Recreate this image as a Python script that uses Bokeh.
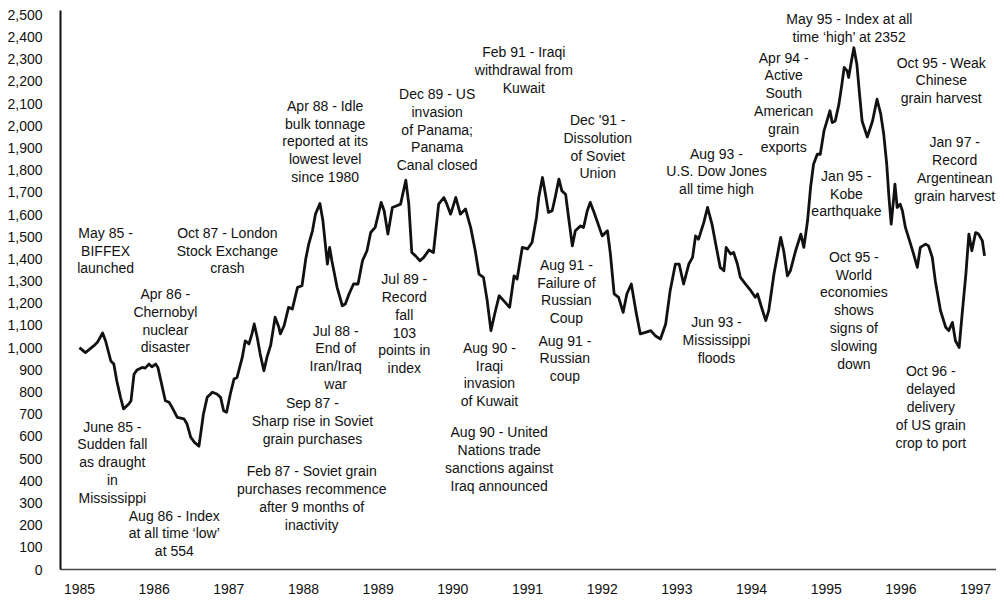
from bokeh.plotting import figure
from bokeh.models import Range1d, FixedTicker, NumeralTickFormatter, ColumnDataSource
from bokeh.core.properties import value
from bokeh.embed import file_html
from bokeh.resources import INLINE

# ---- data: BIFFEX index (decimal year, index value) ----
year = [
    1985.00, 1985.08, 1985.19, 1985.24, 1985.31, 1985.35, 1985.42, 1985.46, 1985.50, 1985.55,
    1985.59, 1985.66, 1985.69, 1985.73, 1985.77, 1985.84, 1985.88, 1985.93, 1985.97, 1986.02,
    1986.05, 1986.11, 1986.15, 1986.20, 1986.24, 1986.31, 1986.40, 1986.44, 1986.49, 1986.54,
    1986.60, 1986.66, 1986.71, 1986.78, 1986.84, 1986.89, 1986.93, 1986.97, 1987.02, 1987.07,
    1987.11, 1987.18, 1987.22, 1987.27, 1987.31, 1987.34, 1987.38, 1987.42, 1987.47, 1987.51,
    1987.56, 1987.62, 1987.67, 1987.69, 1987.74, 1987.80, 1987.85, 1987.92, 1987.98, 1988.03,
    1988.07, 1988.12, 1988.16, 1988.22, 1988.26, 1988.32, 1988.35, 1988.38, 1988.45, 1988.52,
    1988.56, 1988.61, 1988.67, 1988.73, 1988.79, 1988.85, 1988.90, 1988.96, 1989.04, 1989.08,
    1989.13, 1989.19, 1989.25, 1989.30, 1989.37, 1989.41, 1989.45, 1989.50, 1989.56, 1989.61,
    1989.68, 1989.74, 1989.81, 1989.88, 1989.92, 1989.97, 1990.04, 1990.10, 1990.17, 1990.24,
    1990.30, 1990.35, 1990.41, 1990.46, 1990.51, 1990.56, 1990.62, 1990.68, 1990.76, 1990.82,
    1990.86, 1990.93, 1991.00, 1991.06, 1991.12, 1991.15, 1991.20, 1991.24, 1991.28, 1991.33,
    1991.37, 1991.42, 1991.46, 1991.51, 1991.55, 1991.60, 1991.64, 1991.71, 1991.75, 1991.80,
    1991.84, 1991.89, 1991.93, 1992.00, 1992.07, 1992.11, 1992.16, 1992.22, 1992.28, 1992.33,
    1992.39, 1992.45, 1992.51, 1992.58, 1992.65, 1992.71, 1992.78, 1992.85, 1992.91, 1992.98,
    1993.03, 1993.09, 1993.16, 1993.21, 1993.25, 1993.29, 1993.36, 1993.41, 1993.47, 1993.52,
    1993.58, 1993.63, 1993.66, 1993.72, 1993.76, 1993.81, 1993.85, 1993.92, 1993.99, 1994.05,
    1994.08, 1994.12, 1994.19, 1994.23, 1994.30, 1994.39, 1994.43, 1994.48, 1994.52, 1994.59,
    1994.66, 1994.70, 1994.75, 1994.79, 1994.83, 1994.88, 1994.92, 1994.97, 1995.01, 1995.05,
    1995.08, 1995.12, 1995.17, 1995.21, 1995.24, 1995.28, 1995.30, 1995.33, 1995.37, 1995.41,
    1995.45, 1995.48, 1995.55, 1995.62, 1995.68, 1995.73, 1995.77, 1995.81, 1995.84, 1995.87,
    1995.90, 1995.92, 1995.95, 1995.99, 1996.02, 1996.06, 1996.13, 1996.17, 1996.22, 1996.26,
    1996.33, 1996.37, 1996.42, 1996.46, 1996.53, 1996.60, 1996.64, 1996.69, 1996.73, 1996.78,
    1996.82, 1996.87, 1996.91, 1996.95, 1997.00, 1997.04, 1997.09, 1997.12,
]
index = [
    1000, 978, 1008, 1024, 1066, 1030, 940, 926, 850, 776,
    724, 746, 760, 880, 899, 911, 908, 926, 914, 926,
    911, 821, 761, 754, 731, 686, 679, 656, 596, 573,
    556, 701, 776, 799, 791, 776, 716, 709, 791, 859,
    866, 956, 1031, 1017, 1062, 1107, 1047, 971, 896, 956,
    1010, 1137, 1092, 1062, 1099, 1182, 1174, 1272, 1279, 1400,
    1467, 1527, 1602, 1650, 1572, 1377, 1452, 1392, 1272, 1189,
    1197, 1242, 1287, 1287, 1392, 1437, 1519, 1542, 1655, 1617,
    1512, 1632, 1640, 1647, 1755, 1647, 1429, 1414, 1392, 1407,
    1440, 1429, 1647, 1677, 1647, 1602, 1677, 1602, 1625, 1540,
    1437, 1332, 1317, 1212, 1077, 1152, 1234, 1212, 1182, 1324,
    1309, 1452, 1445, 1474, 1587, 1677, 1767, 1692, 1610, 1617,
    1677, 1760, 1707, 1692, 1587, 1459, 1527, 1549, 1542, 1617,
    1655, 1610, 1572, 1504, 1527, 1422, 1242, 1227, 1159, 1242,
    1287, 1167, 1062, 1069, 1077, 1054, 1039, 1107, 1257, 1377,
    1377, 1287, 1377, 1407, 1504, 1489, 1564, 1632, 1557, 1467,
    1362, 1347, 1452, 1422, 1429, 1377, 1317, 1287, 1257, 1227,
    1242, 1197, 1122, 1167, 1332, 1497, 1437, 1324, 1347, 1437,
    1512, 1452, 1572, 1722, 1827, 1872, 1872, 1977, 2022, 2068,
    2015, 2022, 2098, 2188, 2263, 2248, 2218, 2278, 2352, 2278,
    2128, 2022, 1950, 2022, 2120, 2053, 1962, 1827, 1677, 1557,
    1662, 1737, 1632, 1647, 1617, 1542, 1467, 1422, 1362, 1452,
    1467, 1459, 1407, 1302, 1167, 1092, 1077, 1114, 1031, 1001,
    1152, 1332, 1512, 1437, 1519, 1512, 1482, 1414,
]

x_ticks = list(range(1985, 1998))
y_ticks = list(range(0, 2600, 100))

# ---- annotations (text, anchor year, anchor value of first line) ----
ann_text = [
    "May 85 -\nBIFFEX\nlaunched",
    "Oct 87 - London\nStock Exchange\ncrash",
    "Apr 86 -\nChernobyl\nnuclear\ndisaster",
    "June 85 -\nSudden fall\nas draught\nin\nMississippi",
    "Aug 86 - Index\nat all time \u2018low\u2019\nat 554",
    "Sep 87 -\nSharp rise in Soviet\ngrain purchases",
    "Feb 87 - Soviet grain\npurchases recommence\nafter 9 months of\ninactivity",
    "Jul 88 -\nEnd of\nIran/Iraq\nwar",
    "Apr 88 - Idle\nbulk tonnage\nreported at its\nlowest level\nsince 1980",
    "Jul 89 -\nRecord\nfall\n103\npoints in\nindex",
    "Dec 89 - US\ninvasion\nof Panama;\nPanama\nCanal closed",
    "Feb 91 - Iraqi\nwithdrawal from\nKuwait",
    "Dec '91 -\nDissolution\nof Soviet\nUnion",
    "Aug 91 -\nFailure of\nRussian\nCoup",
    "Aug 91 -\nRussian\ncoup",
    "Aug 90 -\nIraqi\ninvasion\nof Kuwait",
    "Aug 90 - United\nNations trade\nsanctions against\nIraq announced",
    "Aug 93 -\nU.S. Dow Jones\nall time high",
    "Jun 93 -\nMississippi\nfloods",
    "Apr 94 -\nActive\nSouth\nAmerican\ngrain\nexports",
    "May 95 - Index at all\ntime \u2018high\u2019 at 2352",
    "Oct 95 - Weak\nChinese\ngrain harvest",
    "Jan 95 -\nKobe\nearthquake",
    "Oct 95 -\nWorld\neconomies\nshows\nsigns of\nslowing\ndown",
    "Jan 97 -\nRecord\nArgentinean\ngrain harvest",
    "Oct 96 -\ndelayed\ndelivery\nof US grain\ncrop to port",
]
ann_x = [1985.35, 1986.98, 1986.15, 1985.44, 1986.27, 1988.12, 1988.11, 1988.43, 1988.29,
         1989.35, 1989.79, 1990.95, 1991.94, 1991.52, 1991.50, 1990.49, 1990.62, 1993.53,
         1993.53, 1994.43, 1995.31, 1996.54, 1995.27, 1995.37, 1996.72, 1996.40]
ann_y = [1518, 1518, 1242, 644, 243, 749, 443, 1077, 2090,
         1309, 2144, 2333, 2026, 1374, 1032, 999, 618, 1875,
         1114, 2308, 2481, 2285, 1775, 1410, 1925, 893]

LINE_H = 17.8
FONT = "Liberation Sans"

p = figure(width=996, height=601,
           x_range=Range1d(1984.746, 1997.28), y_range=Range1d(0, 2520),
           output_backend="svg", toolbar_location=None,
           min_border_left=60, min_border_right=0, min_border_top=10, min_border_bottom=32)
p.outline_line_color = None
p.grid.visible = False

p.line(year, index, line_width=2.8, line_color="#111111", line_join="round")

xs, ys, txt, offs = [], [], [], []
for t, ax, ay in zip(ann_text, ann_x, ann_y):
    for i, ln in enumerate(t.split("\n")):
        xs.append(ax)
        ys.append(ay)
        txt.append(ln)
        offs.append(i * LINE_H)
src = ColumnDataSource(dict(x=xs, y=ys, text=txt, yoff=offs))
p.text(x="x", y="y", text="text", y_offset="yoff", source=src,
       text_font=value(FONT), text_font_size="14px", text_align="center",
       text_baseline="middle", text_color="#111111")

for ax in (p.xaxis[0], p.yaxis[0]):
    ax.major_tick_line_color = None
    ax.minor_tick_line_color = None
    ax.major_tick_out = 0
    ax.major_tick_in = 0
    ax.minor_tick_out = 0
    ax.major_label_text_font = FONT
    ax.major_label_text_font_size = "14px"
    ax.major_label_text_color = "#111111"

p.xaxis.ticker = FixedTicker(ticks=x_ticks)
p.xaxis.major_label_overrides = {t: str(t) for t in x_ticks}
p.xaxis.major_label_standoff = 14
p.xaxis.axis_line_color = "#444444"
p.xaxis.axis_line_width = 1.5

p.yaxis.ticker = FixedTicker(ticks=y_ticks)
p.yaxis.formatter = NumeralTickFormatter(format="0,0")
p.yaxis.major_label_standoff = 18
p.yaxis.axis_line_color = "#111111"
p.yaxis.axis_line_width = 2

open("out.html", "w").write(file_html(p, INLINE))
